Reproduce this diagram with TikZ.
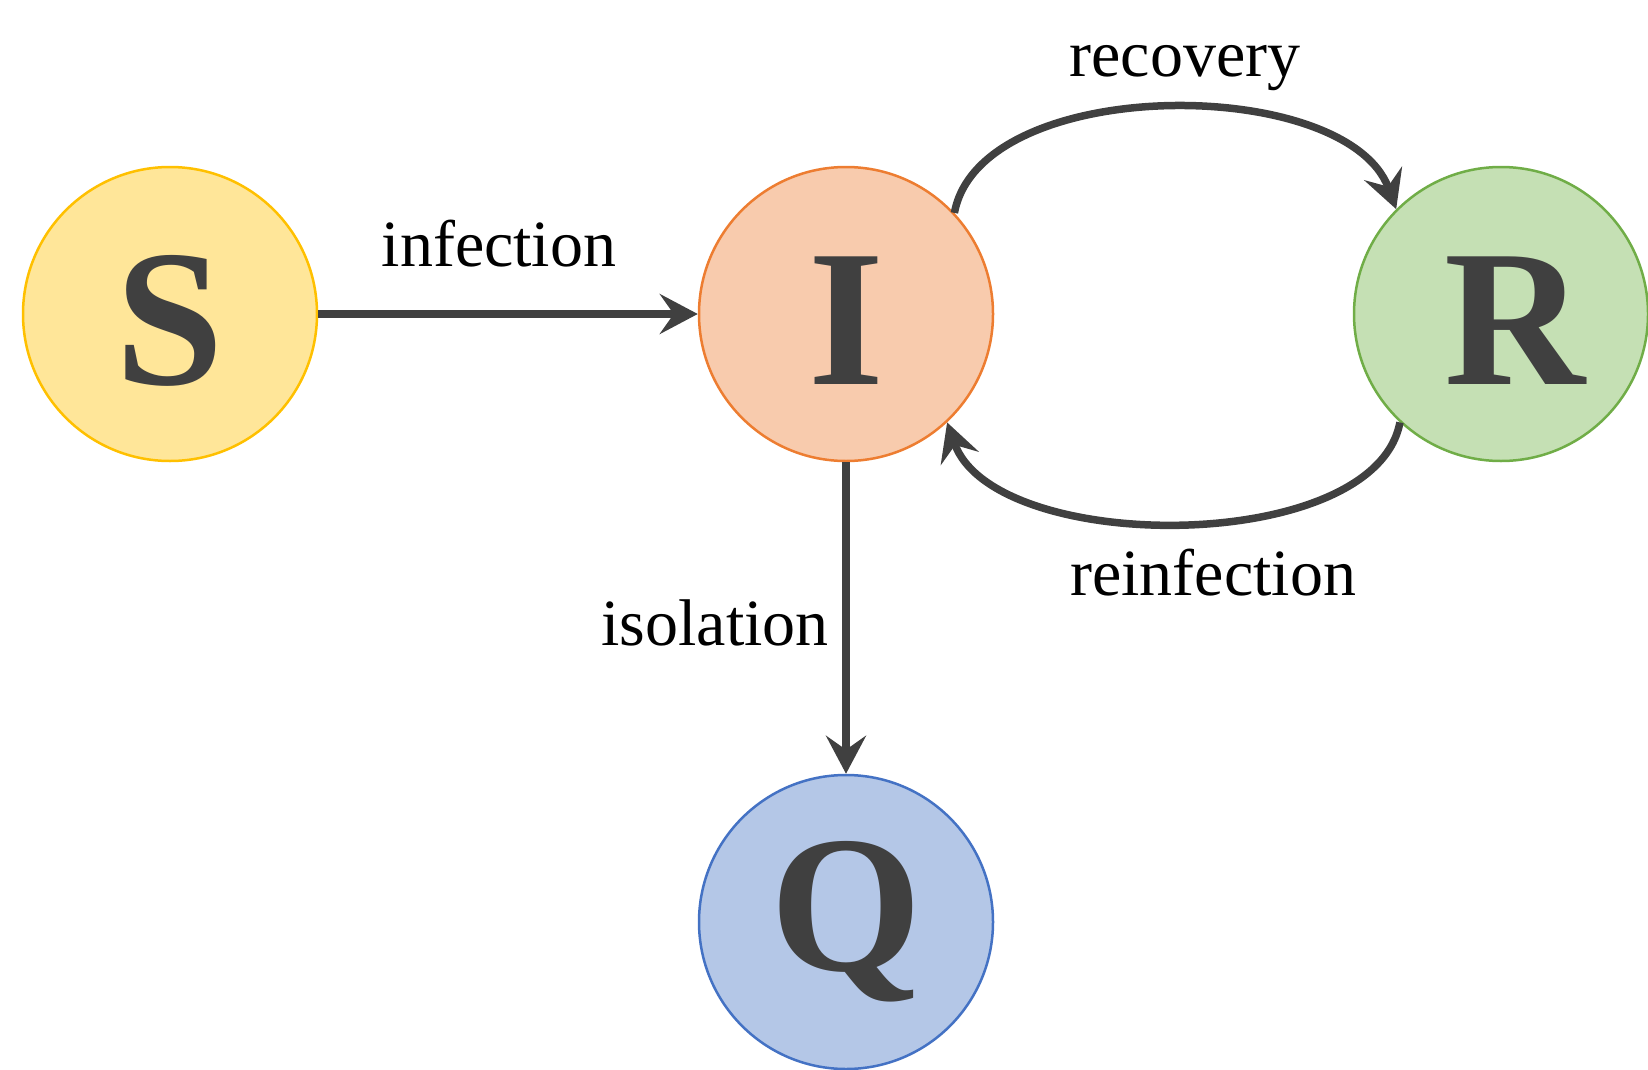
\documentclass[tikz,border=0pt]{standalone}
\usepackage{fontspec}
\setmainfont{Liberation Serif}
\usetikzlibrary{arrows.meta}
\definecolor{ink}{HTML}{404040}
\definecolor{sfill}{HTML}{FFE699}\definecolor{sline}{HTML}{FFC000}
\definecolor{ifill}{HTML}{F8CBAD}\definecolor{iline}{HTML}{ED7D31}
\definecolor{rfill}{HTML}{C5E0B4}\definecolor{rline}{HTML}{70AD47}
\definecolor{qfill}{HTML}{B4C7E7}\definecolor{qline}{HTML}{4472C4}
\tikzset{
  state/.style={circle, minimum size=294pt, inner sep=0pt, line width=2.5pt,
    text=ink, font=\fontsize{195pt}{195pt}\selectfont\bfseries,
    text height=140pt, text depth=0pt},
  flow/.style={draw=ink, line width=7.5pt, -{Stealth[length=38pt,width=40pt,inset=14pt]}},
  lbl/.style={anchor=base, inner sep=0pt, font=\fontsize{66pt}{66pt}\selectfont}
}
\begin{document}
\begin{tikzpicture}[x=1pt,y=-1pt]
\useasboundingbox (0,0) rectangle (1648,1070);
\node[state, fill=sfill, draw=sline] (S) at (170,314) {S};
\node[state, fill=ifill, draw=iline] (I) at (846,314) {I};
\node[state, fill=rfill, draw=rline] (R) at (1501,314) {\hspace*{28pt}R};
\node[state, fill=qfill, draw=qline, text height=129pt, text depth=33pt] (Q) at (846,922) {Q};
\draw[flow] (S) -- (I);
\draw[flow] (I) -- (Q);
\draw[flow] (I.43) .. controls (980,74) and (1347,74) .. (R.135);
\draw[flow] (R.227) .. controls (1375,556) and (994,556) .. (I.-47);
\node[lbl] (linf) at (499,266) {infection};
\node[lbl] (lrec) at (1185,77) {recovery};
\node[lbl] (lreinf) at (1213,595) {reinfection};
\node[lbl] (liso) at (715,645) {isolation};
\end{tikzpicture}
\end{document}
